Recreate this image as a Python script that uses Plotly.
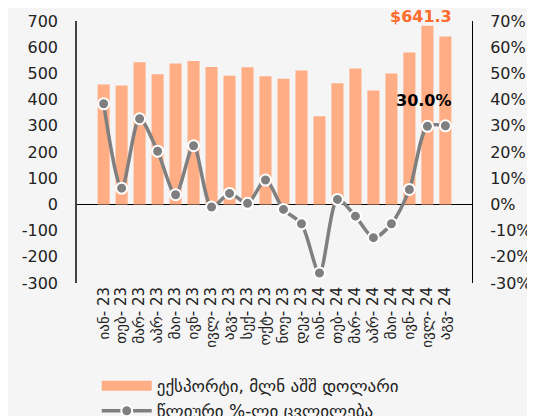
import plotly.graph_objects as go

months = ['იან- 23', 'თებ- 23', 'მარ- 23', 'აპრ- 23', 'მაი- 23', 'ივნ- 23',
          'ივლ- 23', 'აგვ- 23', 'სექ- 23', 'ოქტ- 23', 'ნოე- 23', 'დეკ- 23',
          'იან- 24', 'თებ- 24', 'მარ- 24', 'აპრ- 24', 'მაი- 24', 'ივნ- 24',
          'ივლ- 24', 'აგვ- 24']
exports = [458, 454, 543, 497, 538, 547, 524, 491, 523, 489, 480, 511,
           336, 462, 519, 435, 500, 580, 682, 641.3]
growth = [0.384, 0.062, 0.327, 0.203, 0.037, 0.224, -0.01, 0.042, 0.004, 0.093,
          -0.019, -0.074, -0.262, 0.019, -0.045, -0.127, -0.074, 0.057, 0.298, 0.300]

left_ticks = [-300, -200, -100, 0, 100, 200, 300, 400, 500, 600, 700]
right_ticks = [-30, -20, -10, 0, 10, 20, 30, 40, 50, 60, 70]

FONT = "DejaVu Sans, sans-serif"
BAR_COLOR = '#FFAD85'

fig = go.Figure()
fig.add_trace(go.Bar(
    x=months,
    y=exports,
    name='ექსპორტი, მლნ აშშ დოლარი',
    marker=dict(color=BAR_COLOR, line=dict(width=0)),
    showlegend=False,
))
# legend entry drawn as a wide block, like the reference
fig.add_trace(go.Scatter(
    x=[None], y=[None],
    name='ექსპორტი, მლნ აშშ დოლარი',
    mode='lines',
    line=dict(color=BAR_COLOR, width=11),
))
fig.add_trace(go.Scatter(
    x=months,
    y=growth,
    name='წლიური %-ლი ცვლილება',
    yaxis='y2',
    mode='lines+markers',
    line=dict(color='#7f7f7f', width=3.5, shape='spline', smoothing=0.8),
    marker=dict(color='#7f7f7f', size=11, line=dict(color='white', width=2)),
))

fig.add_annotation(
    x=months[-1], y=exports[-1],
    text='<b>$' + f'{exports[-1]:.1f}' + '</b>',
    showarrow=False, xanchor='right', yanchor='bottom',
    xshift=9, yshift=8,
    font=dict(family=FONT, size=16, color='#FF6B2C'),
)
fig.add_annotation(
    x=months[-1], y=growth[-1], yref='y2',
    text='<b>' + f'{growth[-1]*100:.1f}%' + '</b>',
    showarrow=False, xanchor='right', yanchor='bottom',
    xshift=9, yshift=14,
    font=dict(family=FONT, size=16, color='black'),
)

# page has an 8px body margin, so the figure is 8px smaller than the window
fig.update_layout(
    width=527,
    height=408,
    font=dict(family=FONT, size=16, color='#222222'),
    paper_bgcolor='#f5f5f5',
    plot_bgcolor='#f5f5f5',
    margin=dict(l=69, r=63, t=13, b=133, autoexpand=False),
    bargap=0.33,
    showlegend=True,
    legend=dict(
        x=0.05, y=-0.325, xanchor='left', yanchor='top',
        orientation='v', bgcolor='rgba(0,0,0,0)',
        font=dict(size=17), itemwidth=50, tracegroupgap=0,
    ),
    xaxis=dict(
        tickmode='array',
        tickvals=months,
        tickangle=-90,
        showline=False,
        showgrid=False,
        ticks='',
        tickfont=dict(size=15),
        automargin=False,
    ),
    yaxis=dict(
        range=[-300, 700],
        tickmode='array',
        tickvals=left_ticks,
        ticktext=[str(v) for v in left_ticks],
        showgrid=False,
        showline=True,
        linecolor='#444444',
        linewidth=1.5,
        zeroline=True,
        zerolinecolor='black',
        zerolinewidth=1,
        ticks='outside',
        ticklen=14,
        tickcolor='rgba(0,0,0,0)',
        automargin=False,
    ),
    yaxis2=dict(
        overlaying='y',
        side='right',
        range=[-0.3, 0.7],
        tickmode='array',
        tickvals=[v / 100 for v in right_ticks],
        ticktext=[f'{v}%' for v in right_ticks],
        showgrid=False,
        showline=True,
        linecolor='black',
        linewidth=1,
        zeroline=False,
        ticks='outside',
        ticklen=14,
        tickcolor='rgba(0,0,0,0)',
        automargin=False,
    ),
)

fig.write_html("out.html")
